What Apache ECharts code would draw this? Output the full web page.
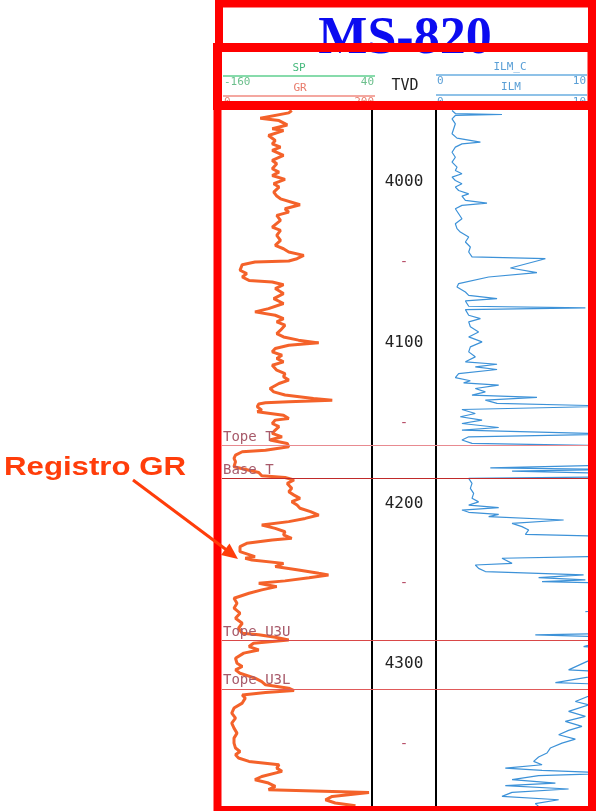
<!DOCTYPE html>
<html>
<head>
  <meta charset="UTF-8">
  <title>MS-820</title>
  <script src="https://cdn.jsdelivr.net/npm/echarts@6.0.0/dist/echarts.min.js"></script>
  <style>
    html, body { margin:0; padding:0; background:#fff; }
    #chart { width:596px; height:811px; }
  </style>
</head>
<body>
<div id="chart"></div>
<script type="text/javascript">
  // curve scales (header)
  var spScale = [-160, 40];
  var grScale = [0, 200];
  var ilmScale = [0, 10];
  var depthRange = [3955, 4389];

  // depth track labels
  var depthLabels = [4000, 4100, 4200, 4300];
  var depthDashes = [4050, 4150, 4250, 4350];

  // formation tops
  var topNames = ['Tope T', 'Base T', 'Tope U3U', 'Tope U3L'];
  var topDepths = [4163.9, 4184.2, 4285.1, 4315.4];

  // GR log: [depth, GR]
  var grPoints = [
    [3955.3,93],[3956.8,89],[3960.1,51],[3961.6,76],[3964.3,87],[3966.7,67],[3967.8,82],[3970.9,62],[3974.0,71],[3976.1,67],
    [3978.1,78],[3980.2,67],[3983.3,82],[3986.4,67],[3988.5,73],[3991.6,67],[3993.7,76],[3995.8,67],[3998.2,84],[4000.9,69],
    [4003.0,76],[4006.1,69],[4008.6,73],[4010.3,78],[4014.0,104],[4016.5,84],[4018.6,89],[4020.6,73],[4023.7,78],[4027.9,67],
    [4030.0,78],[4033.1,73],[4036.2,78],[4039.3,71],[4041.4,82],[4043.4,89],[4045.5,109],[4047.6,100],[4049.0,89],[4049.7,44],
    [4051.3,27],[4054.8,24],[4056.9,33],[4059.0,27],[4061.1,36],[4062.1,67],[4063.8,82],
    [4066.2,71],[4069.3,82],[4072.4,69],[4075.5,82],[4078.7,62],[4080.7,44],[4082.8,71],[4084.9,82],[4086.9,73],[4089.0,84],
    [4092.1,78],[4094.2,73],[4096.3,82],[4098.3,102],[4100.0,129],[4101.5,89],[4103.5,71],[4105.6,67],[4107.7,80],[4109.7,73],
    [4111.8,82],[4113.9,67],[4117.0,73],[4119.1,84],[4121.1,82],[4123.2,89],[4125.3,76],[4128.4,64],[4130.5,69],[4132.5,84],
    [4134.6,122],[4135.7,147],[4136.7,89],[4137.3,58],[4138.1,49],[4139.8,47],[4141.9,53],[4142.9,47],[4145.0,82],[4147.1,89],
    [4148.1,71],[4150.2,67],[4152.2,76],[4154.3,71],[4156.4,67],[4158.5,80],[4160.5,64],[4162.6,87],[4164.7,89],[4166.8,58],
    [4167.8,27],[4169.9,18],[4171.9,16],
    [4174.0,18],[4177.1,16],[4180.7,49],[4182.7,53],[4183.8,84],[4185.4,96],[4187.5,87],[4190.6,93],[4192.7,89],[4194.8,96],
    [4196.8,104],[4198.9,93],[4201.0,100],[4203.0,104],[4205.1,118],[4207.2,129],[4209.3,111],[4211.3,89],[4213.4,53],[4215.5,71],
    [4217.6,84],[4219.6,82],[4221.7,93],[4222.7,67],[4224.8,33],[4226.9,24],[4230.0,24],[4233.1,44],[4234.1,31],[4235.2,40],
    [4237.3,82],[4239.3,71],[4241.4,102],[4243.5,129],[4244.5,142],[4246.2,116],[4248.2,84],[4249.7,49],[4251.8,73],[4253.8,53],
    [4255.9,36],[4259.0,16],[4262.1,20],[4265.2,16],[4268.3,24],[4271.5,18],[4274.6,27],[4277.7,22],[4280.8,27],
    [4281.8,49],[4283.3,71],[4285.0,89],[4287.0,42],[4289.1,36],[4291.2,49],[4293.2,29],[4296.4,18],[4299.5,20],[4301.5,27],
    [4303.6,18],[4305.7,24],[4308.8,44],[4310.9,53],[4312.9,58],[4315.0,89],[4316.5,96],[4317.7,58],[4319.2,27],[4321.2,31],
    [4324.3,27],[4327.4,16],[4330.6,13],[4333.7,18],[4336.8,13],[4339.9,16],[4343.0,20],[4346.1,16],[4349.2,16],[4352.3,18],
    [4354.4,24],[4356.5,18],[4358.5,22],[4360.6,36],[4362.7,76],[4364.8,73],[4366.8,80],[4370.0,53],[4372.0,44],[4374.1,62],
    [4376.2,71],[4378.2,62],[4379.9,196],[4382.4,147],[4384.5,138],[4386.5,151],[4388.2,178]
  ];

  // ILM log: [depth, ILM] (values above 10 run off the track)
  var ilmPoints = [
    [3955.3,1.07],[3957.2,1.29],[3957.8,4.4],[3958.4,1.29],[3960.5,1.07],[3963.6,1.29],[3966.7,1.18],[3969.8,1.07],[3972.5,1.4],[3975.0,2.96],
    [3976.1,1.73],[3978.1,1.29],[3981.3,1.07],[3984.4,1.29],[3987.5,1.07],[3990.6,1.4],[3992.7,1.29],[3994.7,1.73],[3996.8,1.07],[3998.9,1.29],
    [4000.9,1.73],[4003.0,1.29],[4005.1,1.51],[4007.2,2.18],[4008.6,1.73],[4011.3,1.96],[4013.0,3.4],[4014.4,1.73],[4016.5,1.29],[4019.6,1.51],
    [4022.7,1.73],[4025.8,1.29],[4028.9,1.4],[4031.0,1.62],[4034.1,2.18],[4037.2,1.96],[4040.3,2.29],[4043.4,2.18],[4046.5,2.4],[4047.6,7.29],
    [4053.4,4.96],[4056.3,6.73],[4059.0,3.51],[4063.1,1.51],
    [4065.2,1.4],[4068.3,1.96],[4070.4,2.18],[4072.4,4.07],[4073.9,1.96],[4077.2,2.18],[4078.2,9.96],[4079.3,1.96],[4082.8,2.18],[4084.9,2.96],
    [4086.9,2.18],[4090.0,2.29],[4093.2,2.84],[4096.3,2.18],[4099.4,3.07],[4102.5,2.29],[4105.6,2.18],[4108.7,2.62],[4111.8,1.96],[4113.3,4.07],
    [4114.9,2.62],[4116.6,4.07],[4119.1,1.51],[4121.6,1.29],[4123.6,2.29],[4124.9,1.84],[4126.3,4.18],[4128.4,2.62],[4130.5,3.29],[4132.5,2.4],
    [4134.0,6.73],[4135.7,3.29],[4137.7,4.07],[4139.4,12],[4141.5,1.73],[4144.0,2.62],[4146.0,1.62],[4148.1,3.07],[4150.2,1.73],[4152.7,4.18],
    [4154.3,1.73],[4156.8,12],[4158.5,2.18],[4160.5,1.73],[4162.6,2.4],[4164.1,12],
    [4176.1,12],[4177.8,3.62],[4178.8,12],[4179.8,5.07],[4181.3,12],[4183.4,12],[4184.4,2.18],[4187.5,2.4],[4190.6,2.29],[4193.7,2.51],
    [4196.8,2.4],[4199.0,2.84],[4201.0,2.18],[4202.6,4.18],[4204.1,1.73],[4205.5,2.18],[4206.8,4.18],[4208.2,3.51],[4210.3,8.51],[4212.4,5.07],
    [4214.4,5.73],[4216.5,6.18],[4219.2,5.96],[4220.7,12],[4232.8,12],[4234.1,4.4],[4237.3,5.07],[4238.3,2.62],[4240.4,2.84],[4242.4,3.29],
    [4244.5,9.84],[4246.2,6.84],[4247.6,9.96],[4248.7,7.07],[4249.7,12],[4266.3,12],[4267.3,9.96],[4268.3,12],[4280.8,12],
    [4281.8,6.62],[4283.3,12],[4289.1,9.84],[4290.1,12],[4303.6,8.84],[4305.3,12],[4311.5,7.96],[4312.9,12],[4323.3,9.29],[4325.4,10.2],
    [4329.5,8.84],[4332.6,9.96],[4335.7,8.62],[4338.8,9.73],[4341.3,8.84],[4344.0,8.18],[4346.7,9.29],[4349.2,8.4],[4352.3,7.62],[4355.4,7.4],
    [4357.9,6.84],[4360.6,6.51],[4362.7,7.07],[4364.8,4.62],[4366.2,7.07],[4367.9,12],[4369.5,6.84],[4372.0,5.07],[4374.1,7.96],[4375.7,4.62],
    [4377.8,8.84],[4379.9,5.07],[4382.4,4.4],[4384.5,8.18],[4386.9,6.62],[4388.6,6.84]
  ];

  var chart = echarts.init(document.getElementById('chart'));

  var MONO = 'DejaVu Sans Mono';
  var topColors = ['#e88a90', '#c02a2a', '#d94848', '#e05a5a'];

  function depthAxis(gridIndex, extra){
    var ax = {
      type:'value', gridIndex:gridIndex, inverse:true,
      min:depthRange[0], max:depthRange[1],
      axisLine:{show:false}, axisTick:{show:false}, axisLabel:{show:false}, splitLine:{show:false}
    };
    for (var k in extra) ax[k] = extra[k];
    return ax;
  }
  function hiddenX(gridIndex, min, max){
    return {type:'value', gridIndex:gridIndex, min:min, max:max, show:false, splitLine:{show:false}};
  }

  var frameRed = '#ff0000';
  var graphics = [
    // title
    {type:'text', z:90, x:405, y:40, style:{text:'MS-820', font:'bold 52px "Liberation Serif"', fill:'#0b0bf0', align:'center', verticalAlign:'middle'}},
    // header: SP / GR
    {type:'text', z:90, x:299, y:68, style:{text:'SP', font:'11px "'+MONO+'"', fill:'#45b97c', align:'center', verticalAlign:'middle'}},
    {type:'line', z:90, shape:{x1:223,y1:76,x2:375,y2:76}, style:{stroke:'#5fcf8f', lineWidth:1.5}},
    {type:'text', z:90, x:224, y:82, style:{text:String(spScale[0]), font:'11px "'+MONO+'"', fill:'#6cbf8c', align:'left', verticalAlign:'middle'}},
    {type:'text', z:90, x:374, y:82, style:{text:String(spScale[1]), font:'11px "'+MONO+'"', fill:'#6cbf8c', align:'right', verticalAlign:'middle'}},
    {type:'text', z:90, x:300, y:88, style:{text:'GR', font:'11px "'+MONO+'"', fill:'#e87a6a', align:'center', verticalAlign:'middle'}},
    {type:'line', z:90, shape:{x1:223,y1:96,x2:375,y2:96}, style:{stroke:'#f08a80', lineWidth:1.5}},
    {type:'text', z:90, x:224, y:102, style:{text:String(grScale[0]), font:'11px "'+MONO+'"', fill:'#e88070', align:'left', verticalAlign:'middle'}},
    {type:'text', z:90, x:374, y:102, style:{text:String(grScale[1]), font:'11px "'+MONO+'"', fill:'#e88070', align:'right', verticalAlign:'middle'}},
    // header: TVD
    {type:'text', z:90, x:405, y:86, style:{text:'TVD', font:'15px "'+MONO+'"', fill:'#222', align:'center', verticalAlign:'middle'}},
    // header: ILM_C / ILM
    {type:'text', z:90, x:510, y:67, style:{text:'ILM_C', font:'11px "'+MONO+'"', fill:'#5a9fd6', align:'center', verticalAlign:'middle'}},
    {type:'line', z:90, shape:{x1:436,y1:75,x2:587,y2:75}, style:{stroke:'#6aaee0', lineWidth:1.5}},
    {type:'text', z:90, x:437, y:81, style:{text:String(ilmScale[0]), font:'11px "'+MONO+'"', fill:'#5a9fd6', align:'left', verticalAlign:'middle'}},
    {type:'text', z:90, x:586, y:81, style:{text:String(ilmScale[1]), font:'11px "'+MONO+'"', fill:'#5a9fd6', align:'right', verticalAlign:'middle'}},
    {type:'text', z:90, x:511, y:87, style:{text:'ILM', font:'11px "'+MONO+'"', fill:'#5a9fd6', align:'center', verticalAlign:'middle'}},
    {type:'line', z:90, shape:{x1:436,y1:95,x2:587,y2:95}, style:{stroke:'#6aaee0', lineWidth:1.5}},
    {type:'text', z:90, x:437, y:102, style:{text:String(ilmScale[0]), font:'11px "'+MONO+'"', fill:'#5a9fd6', align:'left', verticalAlign:'middle'}},
    {type:'text', z:90, x:586, y:102, style:{text:String(ilmScale[1]), font:'11px "'+MONO+'"', fill:'#5a9fd6', align:'right', verticalAlign:'middle'}},
    // red frames
    {type:'rect', z:100, shape:{x:219,y:3.5,width:373,height:44}, style:{fill:null, stroke:frameRed, lineWidth:8}},
    {type:'rect', z:101, shape:{x:217.5,y:47.5,width:374.5,height:58}, style:{fill:null, stroke:frameRed, lineWidth:9}},
    {type:'rect', z:101, shape:{x:217.5,y:105.5,width:374.5,height:704.5}, style:{fill:null, stroke:frameRed, lineWidth:8}},
    // annotation
    {type:'text', z:110, x:4, y:468, scaleX:1.2, style:{text:'Registro GR', font:'bold 26px "Liberation Sans"', fill:'#ff3d0a', align:'left', verticalAlign:'middle'}},
    {type:'line', z:110, shape:{x1:133,y1:480,x2:228,y2:551}, style:{stroke:'#ff3d0a', lineWidth:3}},
    {type:'polygon', z:110, shape:{points:[[238,559],[221,555],[229.5,543.5]]}, style:{fill:'#ff3d0a'}}
  ];

  chart.setOption({
    animation:false,
    backgroundColor:'#fff',
    grid:[
      {left:222, top:110, width:150, height:697},
      {left:372, top:110, width:64, height:697},
      {left:436, top:110, width:150, height:697},
      {left:222, top:110, width:366, height:697}
    ],
    xAxis:[
      hiddenX(0, grScale[0], grScale[1]),
      hiddenX(1, 0, 1),
      hiddenX(2, ilmScale[0], ilmScale[1]),
      hiddenX(3, 0, 1)
    ],
    yAxis:[
      depthAxis(0, {}),
      depthAxis(1, {
        position:'left',
        axisLine:{show:true, lineStyle:{color:'#000', width:2}},
        axisLabel:{
          show:true, inside:true, margin:32, align:'center',
          customValues: depthLabels.concat(depthDashes),
          fontFamily:MONO, fontSize:16, color:'#222',
          formatter:function(v){ return depthLabels.indexOf(Number(v)) >= 0 ? String(v) : '{d|-}'; },
          rich:{d:{color:'#b8506a', fontSize:14, fontFamily:MONO}}
        }
      }),
      depthAxis(1, {position:'right', axisLine:{show:true, lineStyle:{color:'#000', width:2}}}),
      depthAxis(2, {}),
      depthAxis(3, {})
    ],
    series:[
      {
        name:'Tops', type:'line', xAxisIndex:3, yAxisIndex:4, data:[], silent:true, z:3,
        markLine:{
          silent:true, symbol:'none', animation:false,
          label:{show:true, position:'insideStartTop', formatter:'{b}', distance:1,
                 color:'#a85a6a', fontFamily:MONO, fontSize:14},
          data: topDepths.map(function(d, i){
            return {name:topNames[i], yAxis:d, lineStyle:{color:topColors[i], width:1.2, type:'solid'}};
          })
        }
      },
      {
        name:'GR', type:'line', xAxisIndex:0, yAxisIndex:0, showSymbol:false, z:4,
        lineStyle:{color:'#f4622a', width:3},
        data: grPoints.map(function(p){ return [p[1], p[0]]; })
      },
      {
        name:'ILM', type:'line', xAxisIndex:2, yAxisIndex:3, showSymbol:false, z:4,
        lineStyle:{color:'#3d92d8', width:1.2},
        data: ilmPoints.map(function(p){ return [p[1], p[0]]; })
      }
    ],
    graphic: graphics
  });
</script>
</body>
</html>
